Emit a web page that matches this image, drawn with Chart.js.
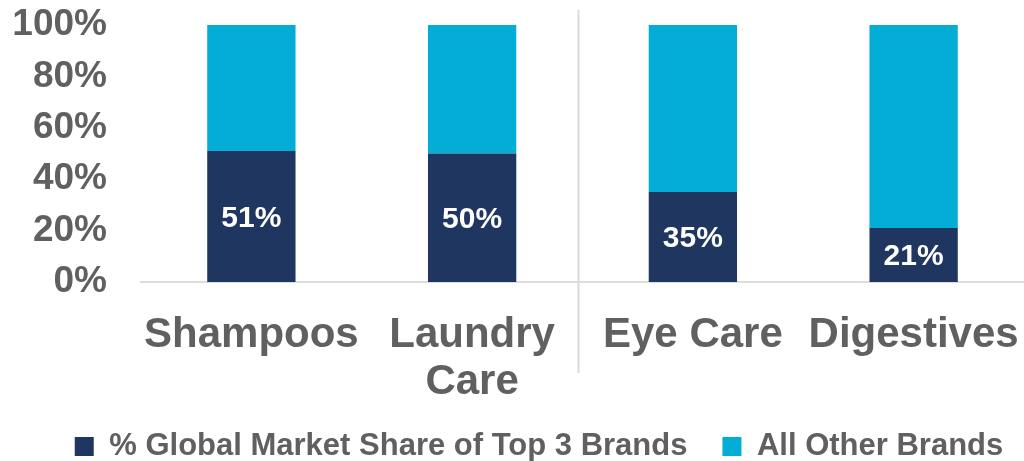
<!DOCTYPE html>
<html>
<head>
<meta charset="utf-8">
<script src="https://cdn.jsdelivr.net/npm/chart.js@4.4.1/dist/chart.umd.min.js"></script>
<style>
html,body{margin:0;padding:0;background:#fff;}
#wrap{width:1024px;height:461px;position:relative;}
</style>
</head>
<body>
<div id="wrap"><canvas id="c" width="1024" height="461"></canvas></div>
<script>
const categories = ['Shampoos', ['Laundry', 'Care'], 'Eye Care', 'Digestives'];
const top3Share = [51, 50, 35, 21];
const otherShare = [49, 50, 65, 79];
const seriesNames = ['% Global Market Share of Top 3 Brands', 'All Other Brands'];
const yTicks = [0, 20, 40, 60, 80, 100];

const navy = '#1F3660';
const cyan = '#03ADD6';
const gray = '#606060';
const fontFamily = '"Liberation Sans", Arial, Helvetica, sans-serif';

const labelPlugin = {
  id: 'barLabels',
  afterDatasetsDraw(chart) {
    const ctx = chart.ctx;
    const meta = chart.getDatasetMeta(0);
    ctx.save();
    ctx.fillStyle = '#FFFFFF';
    ctx.font = 'bold 30px ' + fontFamily;
    ctx.textAlign = 'center';
    ctx.textBaseline = 'middle';
    meta.data.forEach((bar, i) => {
      const cy = (bar.y + bar.base) / 2 + 2;
      ctx.fillText(top3Share[i] + '%', bar.x, cy);
    });
    ctx.restore();
  }
};

const dividerPlugin = {
  id: 'divider',
  beforeDatasetsDraw(chart) {
    const x = chart.scales.x;
    const px = (x.getPixelForValue(1) + x.getPixelForValue(2)) / 2 - 4;
    const ctx = chart.ctx;
    ctx.save();
    ctx.strokeStyle = '#D9D9D9';
    ctx.lineWidth = 2;
    ctx.beginPath();
    ctx.moveTo(px, 10);
    ctx.lineTo(px, 373);
    ctx.stroke();
    ctx.restore();
  }
};

const legendShift = {
  id: 'legendShift',
  afterLayout(chart) {
    if (chart.legend) {
      chart.legend.left += 27;
      chart.legend.right += 27;
    }
  }
};

new Chart(document.getElementById('c'), {
  type: 'bar',
  data: {
    labels: categories,
    datasets: [
      { label: seriesNames[0], data: top3Share, backgroundColor: navy, borderWidth: 0 },
      { label: seriesNames[1], data: otherShare, backgroundColor: cyan, borderWidth: 0 }
    ]
  },
  options: {
    responsive: false,
    animation: false,
    devicePixelRatio: 1,
    layout: { padding: { top: 25, right: 0, left: 0, bottom: -11 } },
    datasets: { bar: { categoryPercentage: 1.0, barPercentage: 0.4 } },
    plugins: {
      tooltip: { enabled: false },
      legend: {
        position: 'bottom',
        labels: {
          color: gray,
          font: { family: fontFamily, size: 31, weight: 'bold' },
          boxWidth: 19,
          boxHeight: 19,
          padding: 35
        }
      }
    },
    scales: {
      x: {
        stacked: true,
        grid: { display: false, drawTicks: false },
        border: { display: true, color: '#DDDDDD', width: 2 },
        afterFit(scale) { scale.height = 114; scale.paddingLeft = 0; scale.paddingRight = 0; },
        ticks: {
          color: gray,
          font: { family: fontFamily, size: 42, weight: 'bold', lineHeight: 1.12 },
          maxRotation: 0,
          autoSkip: false,
          padding: 30
        }
      },
      y: {
        stacked: true,
        min: 0,
        max: 100,
        afterBuildTicks(scale) { scale.ticks = yTicks.map(v => ({ value: v })); },
        afterFit(scale) { scale.width = 141; scale.paddingTop = 0; scale.paddingBottom = 0; },
        grid: { display: false, drawTicks: false },
        border: { display: false },
        ticks: {
          color: gray,
          autoSkip: false,
          font: { family: fontFamily, size: 37, weight: 'bold' },
          padding: 34,
          callback: v => v + '%'
        }
      }
    }
  },
  plugins: [labelPlugin, dividerPlugin, legendShift]
});
</script>
</body>
</html>
